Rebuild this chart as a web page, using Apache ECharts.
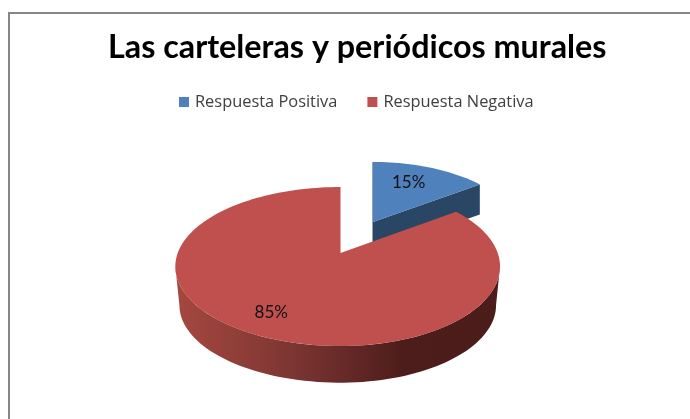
<!DOCTYPE html>
<html>
<head>
<meta charset="utf-8">
<style>html,body{margin:0;padding:0;background:#fff}#c{width:690px;height:419px}</style>
<script src="https://cdn.jsdelivr.net/npm/echarts@6/dist/echarts.min.js"></script>
</head>
<body>
<div id="c"></div>
<script>
const chartTitle = 'Las carteleras y periódicos murales';
const categories = ['Respuesta Positiva', 'Respuesta Negativa'];
const values = [15, 85];
const topColors = ['#4F81BD', '#C0504D'];

// 3D projection settings for each slice (explosion moves and shrinks the blue one)
const K = 0.17, RX = 159.6, RY = 77.2;
const sliceLayout = [
  { cx: 373, cy: 222, scale: 0.91, depth: 30, bottomScale: 1, rxLeft: 1, rxRight: 1, labelR: 0.68, labelTurn: -3.5, edge: true },
  { cx: 340.5, cy: 253, scale: 1, depth: 39, bottomScale: 0.975, rxLeft: 1.02, rxRight: 0.985, labelR: 0.776, labelTurn: 2, edge: false }
];
const total = values.reduce((a, b) => a + b, 0);

function project(L, deg, r, bottom) {
  const t = deg * Math.PI / 180;
  const u = Math.sin(t) * r, v = -Math.cos(t) * r;
  const d = 1 - K * v;
  const s = L.scale * (bottom ? L.bottomScale : 1);
  const stretch = u < 0 ? L.rxLeft : L.rxRight;
  return [L.cx + s * stretch * RX * u / d, L.cy + (bottom ? L.depth : 0) + s * RY * v / d];
}
function arcPts(L, a, b, bottom) {
  const pts = [], n = Math.max(2, Math.ceil(Math.abs(b - a) / 2));
  for (let i = 0; i <= n; i++) pts.push(project(L, a + (b - a) * i / n, 1, bottom));
  return pts;
}
function sideFill(index) {
  if (index === 0) return '#2A4665';
  return new echarts.graphic.LinearGradient(0, 0, 1, 0, [
    { offset: 0, color: '#A5483F' },
    { offset: 0.35, color: '#7E3633' },
    { offset: 0.7, color: '#4D1D1B' },
    { offset: 1, color: '#4A1C1A' }
  ]);
}
function renderSlice(index) {
  return function (params, api) {
    const value = api.value(0);
    const before = values.slice(0, index).reduce((a, b) => a + b, 0);
    const start = before / total * 360, end = (before + value) / total * 360;
    const L = sliceLayout[index];
    const children = [];
    const poly = (points, fill) => children.push({ type: 'polygon', shape: { points }, style: { fill } });

    // outer wall: only the part that faces the viewer
    const tan = Math.acos(-K) * 180 / Math.PI;
    const a = Math.max(start, tan), b = Math.min(end, 360 - tan);
    if (b > a) {
      poly(arcPts(L, a, b, false).concat(arcPts(L, b, a, true)), sideFill(index));
    }
    // cut faces
    if (Math.sin(end * Math.PI / 180) > 0.01) {
      poly([project(L, end, 0, false), project(L, end, 1, false), project(L, end, 1, true), project(L, end, 0, true)], sideFill(index));
    }
    // edge-on start face seen as a thin dark sliver
    if (L.edge) {
      children.push({
        type: 'polyline',
        shape: { points: [project(L, start, 1, false), project(L, start, 0, true)] },
        style: { stroke: sideFill(index), lineWidth: 1, fill: null }
      });
    }
    // top face
    poly([project(L, 0, 0, false)].concat(arcPts(L, start, end, false)), topColors[index]);

    // label
    const p = project(L, (start + end) / 2 + L.labelTurn, L.labelR, false);
    children.push({
      type: 'text', x: p[0], y: p[1],
      style: { text: value + '%', fill: '#111', font: '17px Lato', align: 'center', verticalAlign: 'middle' }
    });
    return { type: 'group', children };
  };
}

const chart = echarts.init(document.getElementById('c'), null, { renderer: 'canvas' });
chart.setOption({
  animation: false,
  backgroundColor: '#fff',
  title: {
    text: chartTitle, left: 103, top: 27,
    textStyle: { fontFamily: 'Lato', fontWeight: 'bold', fontSize: 32.3, color: '#000' }
  },
  legend: {
    data: categories, left: 174, top: 89, icon: 'rect',
    itemWidth: 10, itemHeight: 10, itemGap: 30,
    textStyle: { fontFamily: 'Open Sans', fontSize: 16.4, color: '#404040', padding: [0, 0, 0, 1] }
  },
  graphic: [
    { type: 'rect', shape: { x: 8, y: 12, width: 682, height: 2 }, style: { fill: '#868686' } },
    { type: 'rect', shape: { x: 8, y: 12, width: 2, height: 407 }, style: { fill: '#868686' } }
  ],
  series: categories.map((name, i) => ({
    type: 'custom', name, coordinateSystem: 'none', silent: true,
    itemStyle: { color: topColors[i] },
    data: [values[i]],
    renderItem: renderSlice(i)
  }))
});
</script>
</body>
</html>
